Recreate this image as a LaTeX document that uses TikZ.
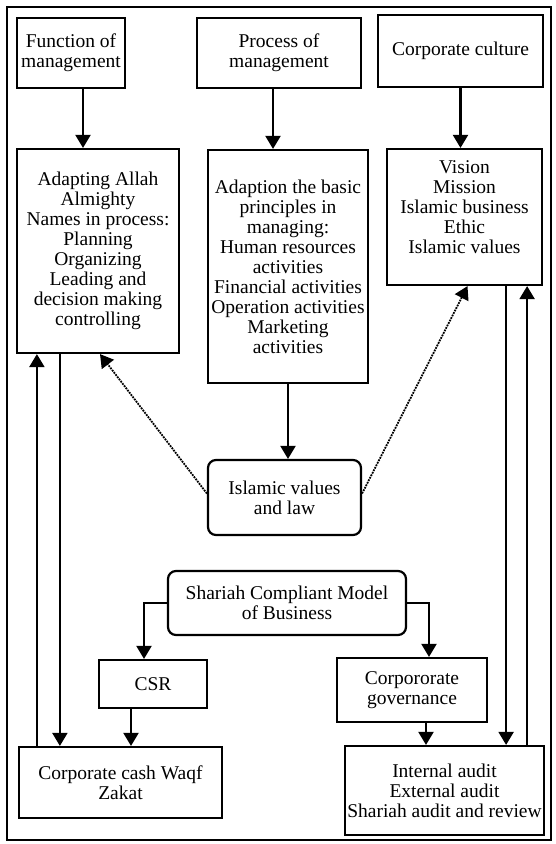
\documentclass[tikz,border=0pt]{standalone}
\usepackage{fontspec}
\setmainfont{Liberation Serif}
\usepackage{tikz}
\usetikzlibrary{arrows.meta,positioning,calc}

\begin{document}
\begin{tikzpicture}[
    x=1pt, y=-1pt,
    box/.style={draw, line width=2.2pt, inner sep=1pt, align=center, font=\fontsize{19.5}{20}\selectfont},
    roundbox/.style={box, rounded corners=8pt},
    arr/.style={-{Triangle[length=13pt,width=15pt]}, line width=2.2pt},
    dotarr/.style={-{Triangle[length=13pt,width=15pt]}, line width=1.8pt, densely dotted}
]
\useasboundingbox (0,0) rectangle (555,844);
\draw[line width=2.2pt] (7,7) rectangle (551,840);
\node[box, minimum width=108pt, minimum height=70pt] (func) at (71,53) {Function of\\management};
\node[box, minimum width=164pt, minimum height=70pt] (proc) at (279,53) {Process of\\management};
\node[box, minimum width=165pt, minimum height=72pt] (cult) at (460.5,51) {Corporate culture};
\node[box, minimum width=162pt, minimum height=204pt] (adapt) at (98,251) {Adapting Allah\\Almighty\\Names in process:\\Planning\\Organizing\\Leading and\\decision making\\controlling};
\node[box, minimum width=160pt, minimum height=233pt] (adaption) at (288,266.5) {Adaption the basic\\principles in\\managing:\\Human resources\\activities\\Financial activities\\Operation activities\\Marketing\\activities};
\node[box, minimum width=155pt, minimum height=136pt, text depth=20pt] (vision) at (464.5,217) {Vision\\Mission\\Islamic business\\Ethic\\Islamic values};
\node[roundbox, minimum width=153pt, minimum height=75pt] (islam) at (284.5,497.5) {Islamic values\\and law};
\node[roundbox, minimum width=238pt, minimum height=64pt] (shariah) at (287,603) {Shariah Compliant Model\\of Business};
\node[box, minimum width=108pt, minimum height=48pt] (csr) at (153,684) {CSR};
\node[box, minimum width=150pt, minimum height=64pt] (corpgov) at (412,690) {Corpororate\\governance};
\node[box, minimum width=203pt, minimum height=71pt] (cash) at (120.5,782.5) {Corporate cash Waqf\\Zakat};
\node[box, minimum width=199pt, minimum height=89pt] (audit) at (444.5,790.5) {Internal audit\\External audit\\Shariah audit and review};
\draw[arr] ([xshift=12pt]func.south) -- ([xshift=12pt]func.south |- adapt.north);
\draw[arr] ([xshift=-6pt]proc.south) -- ([xshift=-6pt]proc.south |- adaption.north);
\draw[arr] (cult.south) -- (cult.south |- vision.north);
\draw[arr] (adaption.south) -- (adaption.south |- islam.north);
\draw[dotarr] ([yshift=4pt]islam.west) -- ([xshift=2pt]adapt.south);
\draw[dotarr] ([yshift=4pt]islam.east) -- ([xshift=3pt]vision.south);
\draw[arr] ([xshift=19pt]cash.north west) -- ([xshift=19pt]cash.north west |- adapt.south);
\draw[arr] ([xshift=42pt]cash.north west |- adapt.south) -- ([xshift=42pt]cash.north west);
\draw[arr] ([xshift=-39pt]audit.north east |- vision.south) -- ([xshift=-39pt]audit.north east);
\draw[arr] ([xshift=-18pt]audit.north east) -- ([xshift=-18pt]audit.north east |- vision.south);
\draw[arr] (shariah.west) -| ([xshift=-9pt]csr.north);
\draw[arr] (shariah.east) -| ([xshift=17pt]corpgov.north);
\draw[arr] ([xshift=-22pt]csr.south) -- ([xshift=-22pt]csr.south |- cash.north);
\draw[arr] ([xshift=14pt]corpgov.south) -- ([xshift=14pt]corpgov.south |- audit.north);
\end{tikzpicture}
\end{document}
